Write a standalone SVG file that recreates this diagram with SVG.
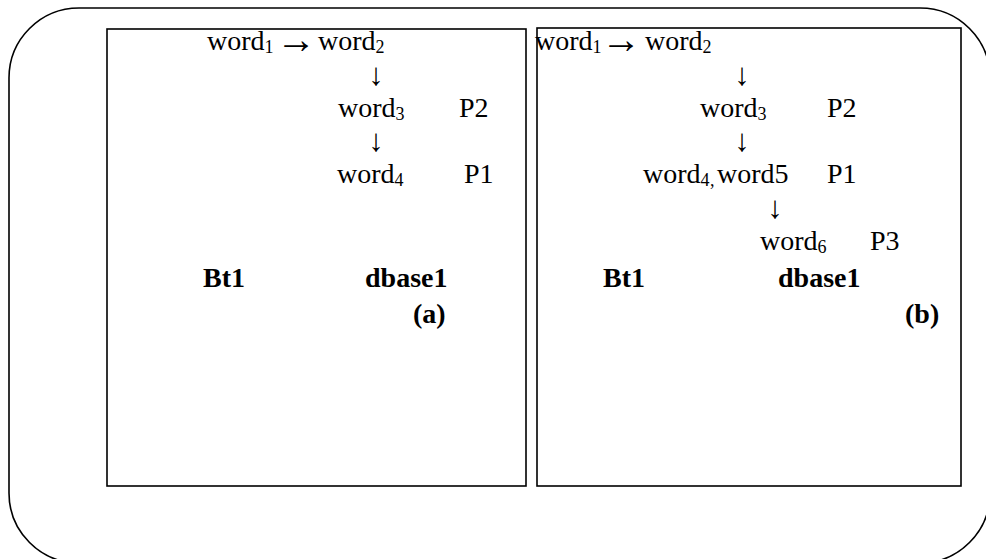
<svg xmlns="http://www.w3.org/2000/svg" width="986" height="559" viewBox="0 0 986 559">
  <style>
    .frame { fill: none; stroke: #000; stroke-width: 1.6; }
    .panel { fill: #fff; stroke: #000; stroke-width: 1.6; }
    .t { font-family: "Liberation Serif", "Times New Roman", serif; font-size: 28px; fill: #000; }
    .b { font-family: "Liberation Serif", "Times New Roman", serif; font-size: 28px; font-weight: bold; fill: #000; }
    .sub { font-size: 18px; }
    .arr { font-family: "Liberation Serif", "Times New Roman", serif; font-size: 31px; fill: #000; text-anchor: middle; }
    .harr { font-family: "Liberation Serif", "Times New Roman", serif; font-size: 40px; fill: #000; text-anchor: middle; }
  </style>
  <rect width="986" height="559" fill="#fff"/>

  <!-- outer rounded frame -->
  <rect class="frame" x="9" y="8" width="981" height="555" rx="70" ry="70"/>

  <!-- panel (a) -->
  <g id="panel-a">
    <rect class="panel" x="107" y="29" width="419" height="457"/>
  </g>
  <!-- panel (b) -->
  <g id="panel-b">
    <rect class="panel" x="537" y="28" width="424" height="458"/>
  </g>

  <!-- panel (a) nodes -->
  <g id="a-word1">
    <text class="t" x="207" y="50">word<tspan class="sub" dy="3">1</tspan></text>
  </g>
  <g id="a-word2">
    <text class="t" x="318" y="50">word<tspan class="sub" dy="3">2</tspan></text>
  </g>
  <g id="a-word3">
    <text class="t" x="338" y="117">word<tspan class="sub" dy="3">3</tspan></text>
    <text class="t" x="459" y="117">P2</text>
  </g>
  <g id="a-word4">
    <text class="t" x="337" y="183">word<tspan class="sub" dy="3">4</tspan></text>
    <text class="t" x="464" y="183">P1</text>
  </g>
  <g id="a-labels">
    <text class="b" x="203" y="287">Bt1</text>
    <text class="b" x="365" y="287">dbase1</text>
    <text class="b" x="413" y="323">(a)</text>
  </g>

  <!-- panel (b) nodes -->
  <g id="b-word1">
    <text class="t" x="535" y="50">word<tspan class="sub" dy="3">1</tspan></text>
  </g>
  <g id="b-word2">
    <text class="t" x="645" y="50">word<tspan class="sub" dy="3">2</tspan></text>
  </g>
  <g id="b-word3">
    <text class="t" x="700" y="117">word<tspan class="sub" dy="3">3</tspan></text>
    <text class="t" x="827" y="117">P2</text>
  </g>
  <g id="b-word4-5">
    <text class="t" x="643" y="183">word<tspan class="sub" dy="3">4</tspan><tspan class="sub" x="710">,</tspan><tspan x="717" dy="-3">word5</tspan></text>
    <text class="t" x="827" y="183">P1</text>
  </g>
  <g id="b-word6">
    <text class="t" x="760" y="250">word<tspan class="sub" dy="3">6</tspan></text>
    <text class="t" x="870" y="250">P3</text>
  </g>
  <g id="b-labels">
    <text class="b" x="603" y="287">Bt1</text>
    <text class="b" x="778" y="287">dbase1</text>
    <text class="b" x="905" y="323">(b)</text>
  </g>

  <!-- connectors: arrow glyphs between chain entries -->
  <g id="connectors">
    <text class="harr" x="296" y="53">→</text>
    <text class="arr" x="376" y="85">↓</text>
    <text class="arr" x="376" y="151">↓</text>
    <text class="harr" x="621" y="53">→</text>
    <text class="arr" x="742" y="85">↓</text>
    <text class="arr" x="742" y="151">↓</text>
    <text class="arr" x="775" y="218">↓</text>
  </g>
</svg>
